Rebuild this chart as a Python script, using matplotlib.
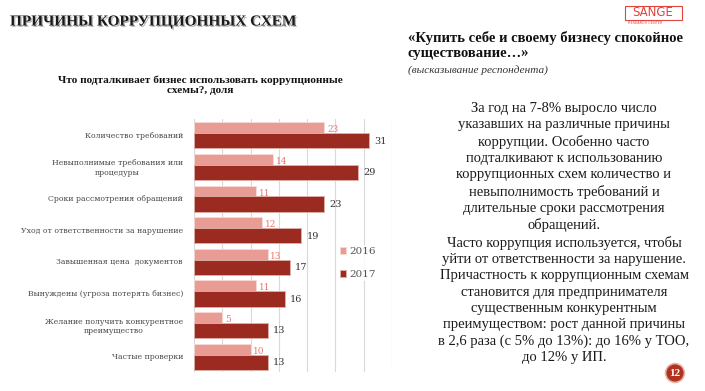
import numpy as np
import matplotlib.pyplot as plt
import matplotlib.patheffects as pe
from matplotlib.patches import Rectangle

# Data
categories = ['Количество требований',
              'Невыполнимые требования или\nпроцедуры',
              'Сроки рассмотрения обращений',
              'Уход от ответственности за нарушение',
              'Завышенная цена  документов',
              'Вынуждены (угроза потерять бизнес)',
              'Желание получить конкурентное\nпреимущество',
              'Частые проверки']
vals_2016 = [23, 14, 11, 12, 13, 11, 5, 10]
vals_2017 = [31, 29, 23, 19, 17, 16, 13, 13]
years = ['2016', '2017']

body_text = ('За год на 7-8% выросло число\n'
             'указавших на различные причины\n'
             'коррупции. Особенно часто\n'
             'подталкивают к использованию\n'
             'коррупционных схем количество и\n'
             'невыполнимость требований и\n'
             'длительные сроки рассмотрения\n'
             'обращений.\n'
             'Часто коррупция используется, чтобы\n'
             'уйти от ответственности за нарушение.\n'
             'Причастность к коррупционным схемам\n'
             'становится для предпринимателя\n'
             'существенным конкурентным\n'
             'преимуществом: рост данной причины\n'
             'в 2,6 раза (с 5% до 13%): до 16% у ТОО,\n'
             'до 12% у ИП.')

c16 = '#E89C94'
c17 = '#9B2B21'

fig = plt.figure(figsize=(7.05, 3.91), dpi=100)
W, H = 705, 391

def fx(x):
    return x / W

def fy(y):
    return 1 - y / H

# Slide title with shadow
fig.text(fx(10), fy(22), 'ПРИЧИНЫ КОРРУПЦИОННЫХ СХЕМ', fontsize=11,
         fontweight='bold', family='Liberation Serif', va='center', ha='left',
         color='#1a1a1a',
         path_effects=[pe.SimplePatchShadow(offset=(1.0, -1.0), shadow_rgbFace='#888888', alpha=0.6),
                       pe.Normal()])

# Chart title
fig.text(fx(200), fy(85), 'Что подталкивает бизнес использовать коррупционные\nсхемы?, доля',
         fontsize=8.1, fontweight='bold', family='Liberation Serif', ha='center',
         va='center', linespacing=1.2, color='#111111')

# Bar chart
ax = fig.add_axes([fx(194), fy(372), fx(392) - fx(194), fy(119) - fy(372)])
y = np.arange(len(categories))
ax.barh(y - 0.22, vals_2016, height=0.35, color=c16, edgecolor='#F6DAD6',
        linewidth=0.6, label=years[0], zorder=3)
ax.barh(y + 0.19, vals_2017, height=0.48, color=c17, edgecolor='#E0B0AA',
        linewidth=0.6, label=years[1], zorder=3)

for i, (a, b) in enumerate(zip(vals_2016, vals_2017)):
    ax.text(a + 0.5, i - 0.16, str(a), color='#E8786E', fontsize=6.5,
            family='DejaVu Serif', va='center', ha='left')
    ax.text(b + 0.9, i + 0.2, str(b), color='#333333', fontsize=7,
            family='DejaVu Serif', va='center', ha='left')

ax.set_xlim(0, 35)
ax.set_ylim(len(categories) - 0.5, -0.5)
ax.set_xticks(np.arange(0, 36, 5))
ax.set_xticklabels([])
ax.tick_params(axis='both', length=0)
ax.set_yticks(y)
ax.set_yticklabels(categories, fontsize=5.6, family='DejaVu Serif', color='#4a4a4a',
                   multialignment='center')
ax.tick_params(axis='y', pad=8)
ax.grid(axis='x', color='#D9D9D9', linewidth=0.8, zorder=0)
for s in ax.spines.values():
    s.set_visible(False)

leg = ax.legend(loc='center left', bbox_to_anchor=(0.7, 0.43), frameon=True,
                handlelength=0.6, handleheight=0.6, handletextpad=0.3,
                labelspacing=1.3, borderpad=0.2, prop={'family': 'DejaVu Serif', 'size': 7.5})
leg.get_frame().set_facecolor('white')
leg.get_frame().set_edgecolor('none')
for t in leg.get_texts():
    t.set_color('#555555')

# Quote block
fig.text(fx(408), fy(38), '«Купить себе и своему бизнесу спокойное', fontsize=10.5,
         fontweight='bold', family='Liberation Serif', va='center', color='#111111')
fig.text(fx(408), fy(54), 'существование…»', fontsize=10.5,
         fontweight='bold', family='Liberation Serif', va='center', color='#111111')
fig.text(fx(408), fy(70), '(высказывание респондента)', fontsize=8.1,
         style='italic', family='Liberation Serif', va='center', color='#333333')

# Body text
fig.text(fx(564), fy(233), body_text, fontsize=10.5, family='Liberation Serif',
         ha='center', va='center', multialignment='center', linespacing=1.32,
         color='#1a1a1a')

# Logo
fig.patches.append(Rectangle((fx(625), fy(20)), fx(682) - fx(625), fy(6) - fy(20),
                             transform=fig.transFigure, fill=False,
                             edgecolor='#E0443C', linewidth=0.8))
fig.text(fx(653), fy(12), 'SANGE', fontsize=8.5, color='#E0443C', ha='center',
         va='center', family='DejaVu Sans')
fig.text(fx(645), fy(23), 'RESEARCH CENTER', fontsize=2.5, color='#E0443C',
         ha='center', va='center', family='DejaVu Sans')

# Page number
fig.text(fx(675), fy(373), '12', fontsize=8, fontweight='bold', color='white',
         ha='center', va='center', family='Liberation Serif',
         bbox=dict(boxstyle='circle,pad=0.35', fc='#B0321F', ec='#E8B8A8', lw=1.2))

fig.savefig('out.png', dpi=100, facecolor='white')
